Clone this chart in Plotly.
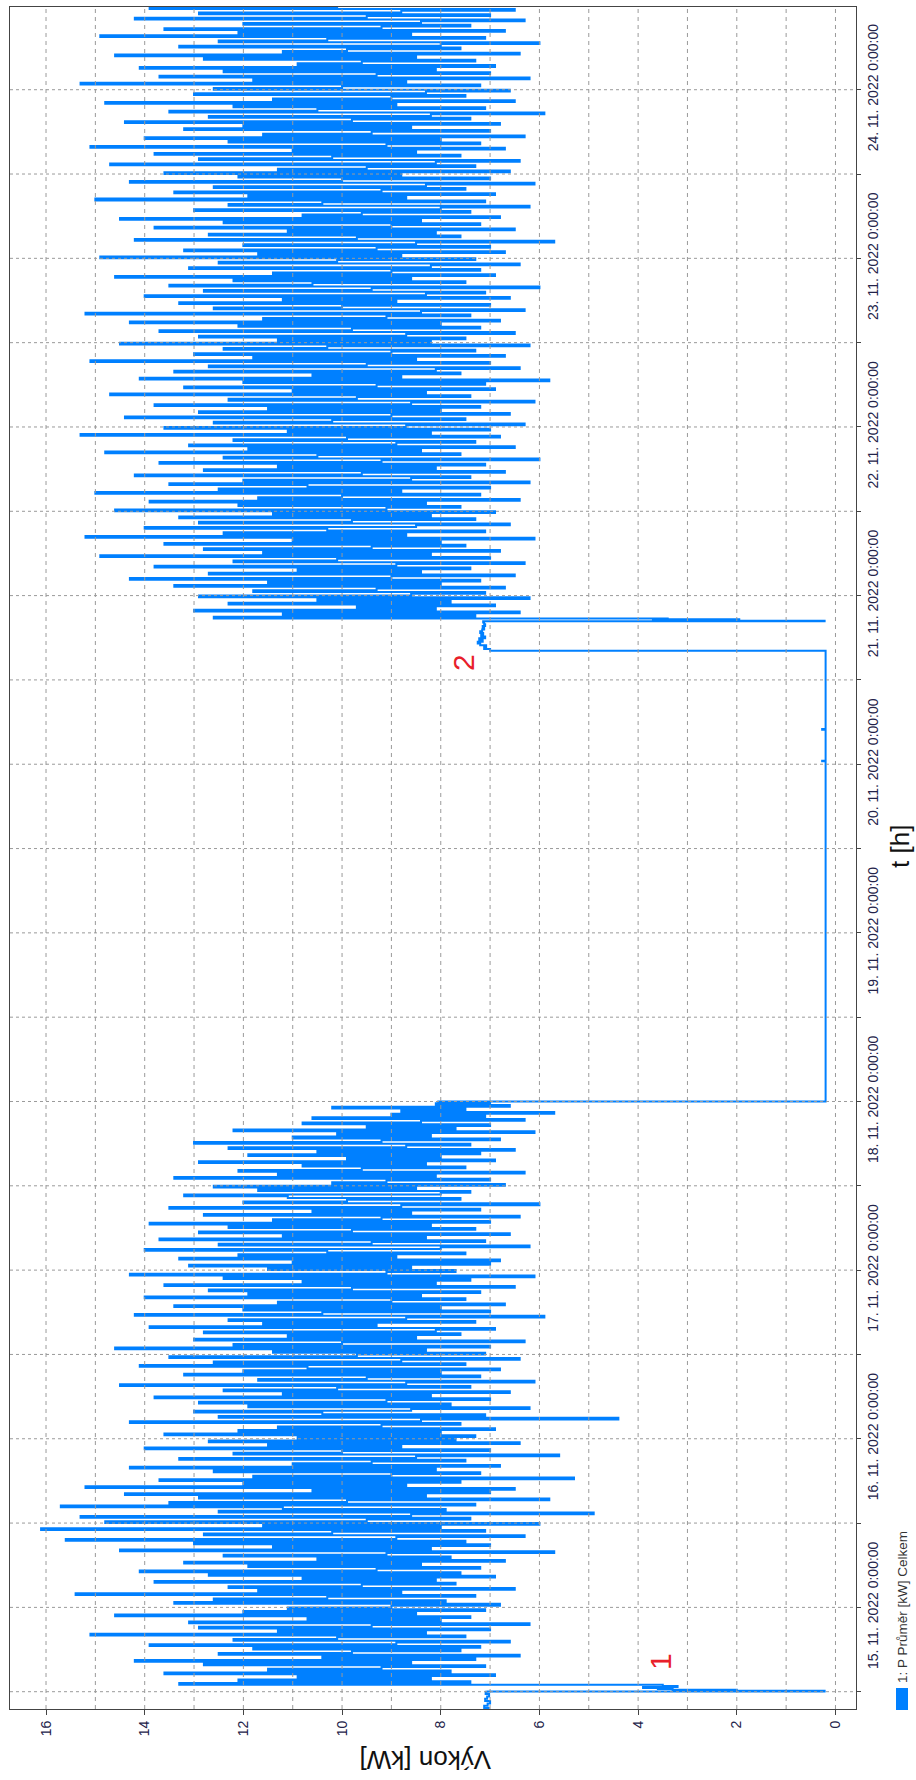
import pandas as pd
import plotly.graph_objects as go

# ---------------- data ----------------
# start: idle level, short drop (marker "1") before the first noisy period
pre_times = ["2022-11-14 09:00", "2022-11-14 09:20", "2022-11-14 09:40", "2022-11-14 10:00",
             "2022-11-14 10:20", "2022-11-14 10:40", "2022-11-14 11:00", "2022-11-14 11:20",
             "2022-11-14 11:40", "2022-11-14 12:00", "2022-11-14 12:01", "2022-11-14 12:08",
             "2022-11-14 12:16", "2022-11-14 12:24", "2022-11-14 12:32", "2022-11-14 12:40",
             "2022-11-14 12:48"]
pre_values = [7.08, 7.03, 7.12, 7.05, 7.0, 7.1, 7.06, 7.02, 7.09, 7.05, 0.22, 2.0,
              3.3, 3.6, 3.9, 3.2, 3.5]

# first operating period, 15-minute averages from 14.11.2022 13:00
period1_start = "2022-11-14 13:00"
period1_values = [
    13.3, 7.4, 12.1, 8.2, 10.9, 6.9, 13.6, 7.8, 11.5, 9.2, 7.1, 12.8, 8.6, 14.2, 7.3, 10.4, 6.4, 12.5, 9.8, 7.6,
    11.8, 7.2, 13.9, 8.9, 6.6, 12.2, 10.1, 7.5, 15.1, 8.3, 11.3, 7.0, 12.9, 9.4, 6.2, 13.1, 8.0, 10.7, 7.4, 14.6,
    8.5, 12.0, 7.1, 11.1, 9.0, 6.8, 13.4, 7.9, 12.6, 10.3, 7.3, 15.4, 8.8, 11.7, 6.5, 12.3, 9.6, 7.7, 13.8, 8.1,
    10.8, 6.9, 12.7, 7.6, 14.1, 9.3, 7.2, 11.9, 8.4, 13.2, 6.7, 10.5, 7.8, 12.4, 9.1, 5.7, 14.5, 8.2, 11.4, 7.0,
    13.0, 7.5, 15.6, 8.9, 6.3, 12.8, 10.2, 7.1, 16.1, 8.0, 11.6, 6.0, 14.8, 9.5, 7.4, 15.3, 8.6, 4.9, 12.5, 7.9,
    11.2, 15.7, 7.3, 13.5, 9.9, 5.8, 12.9, 8.3, 14.4, 7.0, 10.6, 6.5, 15.2, 8.7, 12.0, 7.6, 13.7, 5.3, 11.8, 9.0,
    7.2, 12.6, 8.1, 14.3, 6.8, 11.0, 9.4, 7.5, 13.3, 8.5, 5.6, 12.2, 10.0, 7.0, 14.0, 8.8, 11.5, 6.4, 12.7, 7.7,
    10.9, 7.3, 13.6, 8.0, 12.1, 6.9, 11.3, 9.2, 7.6, 14.3, 8.4, 4.4, 12.5, 7.1, 10.4, 13.0, 8.6, 6.2, 11.9, 7.8,
    12.9, 9.1, 7.0, 13.8, 8.2, 11.2, 6.6, 12.4, 10.1, 7.4, 14.5, 8.7, 6.1, 11.7, 9.5, 7.2, 13.2, 8.0, 12.0, 6.8,
    10.7, 14.1, 7.5, 12.6, 8.8, 6.4, 13.5, 9.7, 7.1, 11.4, 8.3, 14.6, 7.0, 12.2, 10.0, 6.3, 13.0, 8.5, 11.1, 7.6,
    12.8, 8.1, 6.9, 13.9, 9.3, 11.6, 7.3, 12.3, 8.7, 5.9, 14.2, 10.4, 7.0, 12.0, 8.0, 13.4, 6.7, 11.3, 9.0, 7.5,
    14.0, 8.4, 11.9, 7.2, 12.7, 9.8, 6.5, 13.6, 8.1, 10.8, 7.4, 12.4, 6.1, 14.3, 9.1, 7.7, 11.5, 8.6, 13.1, 7.0,
    11.0, 6.8, 13.3, 8.9, 12.1, 7.5, 10.3, 14.0, 8.0, 6.2, 12.5, 9.4, 7.1, 13.7, 8.3, 11.2, 6.6, 12.9, 9.8, 7.3,
    12.3, 8.2, 13.9, 7.0, 11.4, 9.2, 6.4, 12.8, 8.6, 10.6, 7.2, 13.5, 8.8, 6.0, 12.0, 9.9, 7.6, 11.1, 13.2, 8.0,
    7.4, 11.7, 8.5, 12.6, 6.7, 10.2, 9.1, 7.0, 13.4, 8.1, 11.3, 6.3, 12.1, 9.6, 7.5, 10.8, 8.3, 12.9, 6.9, 9.9,
    8.0, 11.9, 7.2, 10.5, 6.5, 12.3, 8.7, 7.4, 13.0, 9.2, 6.8, 11.0, 8.2, 10.1, 6.1, 12.2, 7.7, 9.5, 7.0, 10.8,
    8.4, 6.3, 10.6, 7.1, 9.0, 5.7, 8.8, 7.5, 10.2, 6.6, 8.1, 7.0, 8.05,
]

# shutdown, idle level and restart (marker "2")
mid_times = ["2022-11-18 00:01", "2022-11-19 12:00", "2022-11-20 00:20", "2022-11-20 00:25",
             "2022-11-20 00:30", "2022-11-20 04:50", "2022-11-20 04:55", "2022-11-20 05:00",
             "2022-11-20 16:09", "2022-11-20 16:10",
             "2022-11-20 16:25", "2022-11-20 16:40", "2022-11-20 16:55", "2022-11-20 17:10",
             "2022-11-20 17:25", "2022-11-20 17:40", "2022-11-20 17:55", "2022-11-20 18:10",
             "2022-11-20 18:25", "2022-11-20 18:40", "2022-11-20 18:55", "2022-11-20 19:10",
             "2022-11-20 19:25", "2022-11-20 19:40", "2022-11-20 19:55", "2022-11-20 20:10",
             "2022-11-20 20:20", "2022-11-20 20:25", "2022-11-20 20:30", "2022-11-20 20:38"]
mid_values = [0.2, 0.2, 0.2, 0.27, 0.2, 0.2, 0.27, 0.2, 0.2, 7.0,
              7.12, 7.08, 7.2, 7.25, 7.15, 7.22, 7.1, 7.18,
              7.14, 7.2, 7.16, 7.12, 7.15, 7.1, 7.12, 7.14,
              0.22, 3.7, 1.95, 3.4]

# second operating period, 15-minute averages from 20.11.2022 20:45
period2_start = "2022-11-20 20:45"
period2_values = [
    12.6, 7.3, 11.2, 6.4, 13.0, 8.1, 9.7, 6.9, 12.3, 7.8, 10.5, 6.2, 12.9, 8.6, 7.1, 11.8, 9.3, 6.7, 13.4, 8.0,
    11.5, 7.2, 14.3, 9.0, 6.5, 12.7, 8.4, 10.9, 7.4, 13.8, 8.9, 6.3, 12.2, 10.1, 7.0, 14.9, 8.2, 11.6, 6.8, 12.8,
    9.4, 7.5, 13.6, 8.0, 11.0, 6.1, 15.2, 8.7, 12.4, 7.1, 10.3, 14.0, 8.5, 6.6, 12.9, 9.8, 7.3, 13.3, 8.2, 11.4,
    6.9, 14.6, 9.1, 7.6, 12.1, 8.3, 13.9, 6.4, 11.7, 10.0, 7.2, 15.0, 8.8, 12.5, 7.0, 10.7, 13.5, 6.2, 12.0, 8.6,
    7.4, 14.2, 9.6, 6.7, 12.8, 8.1, 11.3, 7.1, 13.7, 9.2, 6.0, 12.4, 10.5, 7.6, 14.8, 8.4, 11.9, 6.5, 13.1, 8.9,
    7.3, 12.2, 9.9, 6.8, 15.3, 8.2, 11.1, 7.0, 13.6, 8.7, 6.3, 12.6, 10.2, 7.5, 14.4, 9.0, 6.6, 12.9, 8.0, 11.5,
    7.2, 13.8, 8.6, 6.1, 12.3, 9.7, 7.4, 14.7, 8.3, 11.0, 6.9, 13.2, 9.3, 7.1, 12.0, 5.8, 14.1, 8.8, 10.6, 7.6,
    13.4, 8.1, 6.4, 12.7, 9.5, 7.0, 15.1, 8.5, 11.8, 6.7, 13.0, 9.0, 7.3, 12.4, 10.3, 6.2, 14.5, 8.2, 11.3, 7.5,
    12.9, 8.7, 6.5, 13.7, 9.8, 7.2, 12.1, 8.0, 14.3, 6.8, 11.6, 9.1, 7.4, 15.2, 8.4, 6.3, 12.6, 10.0, 7.0, 13.3,
    8.9, 11.2, 6.6, 14.0, 8.3, 7.1, 12.8, 9.4, 6.0, 13.5, 10.6, 7.5, 12.2, 8.6, 14.6, 6.9, 11.4, 9.0, 7.2, 13.1,
    8.2, 6.4, 12.5, 10.1, 7.3, 14.9, 8.8, 11.7, 6.7, 13.2, 9.3, 7.0, 12.0, 8.5, 5.7, 14.2, 9.7, 7.6, 12.7, 8.1,
    11.1, 6.5, 13.8, 9.0, 7.2, 12.4, 8.4, 14.5, 6.8, 10.8, 9.6, 7.4, 13.0, 8.0, 6.2, 12.3, 10.4, 7.1, 15.0, 8.7,
    11.9, 6.9, 13.4, 9.2, 7.5, 12.6, 8.3, 6.1, 14.3, 10.0, 7.0, 12.1, 8.8, 13.6, 6.6, 11.3, 9.5, 7.3, 14.7, 8.1,
    6.4, 12.9, 10.2, 7.6, 13.8, 8.5, 11.0, 6.7, 15.1, 9.1, 7.2, 12.3, 8.0, 14.0, 6.3, 11.6, 9.4, 7.0, 13.2, 8.6,
    12.0, 6.8, 14.4, 9.8, 7.4, 12.7, 8.2, 5.9, 13.5, 10.5, 7.1, 12.2, 8.9, 14.8, 6.5, 11.4, 9.0, 7.5, 13.0, 8.3,
    6.6, 12.6, 10.0, 7.2, 15.3, 8.7, 11.8, 6.2, 13.7, 9.3, 7.0, 12.4, 8.1, 14.1, 6.9, 10.9, 9.6, 7.3, 12.8, 8.5,
    14.6, 6.4, 11.2, 9.9, 7.6, 13.3, 8.0, 6.0, 12.5, 10.3, 7.1, 14.9, 8.6, 12.1, 6.7, 13.6, 9.2, 7.4, 12.0, 8.4,
    6.3, 14.2, 9.5, 7.0, 12.9, 8.8, 6.5, 13.9, 10.1, 7.3, 15.1, 8.2,
]

# axes
day_ticks = ["2022-11-%02d 00:00" % d for d in range(15, 25)]
day_labels = ["%d. 11. 2022 0:00:00" % d for d in range(15, 25)]
half_day_ticks = ["2022-11-%02d 12:00" % d for d in range(14, 24)]
kw_ticks = [0, 2, 4, 6, 8, 10, 12, 14, 16]
series_name = "1: P Průměr [kW] Celkem"

# ---------------- build ----------------
t1 = pd.date_range(period1_start, periods=len(period1_values), freq="15min")
t2 = pd.date_range(period2_start, periods=len(period2_values), freq="15min")
times = (list(pd.to_datetime(pre_times)) + list(t1) + list(pd.to_datetime(mid_times)) + list(t2))
values = pre_values + period1_values + mid_values + period2_values

BLUE = "#0080ff"
TXT = "#23234a"
GRID = "#9a9a9a"
FONT = "Liberation Sans, Arial, sans-serif"

fig = go.Figure()
fig.add_trace(go.Scatter(x=values, y=times, mode="lines", line=dict(color=BLUE, width=2.0, shape="vh"),
                         name=series_name, showlegend=False, hoverinfo="skip"))

W, H = 916, 1780
ML, MR, MT, MB = 10, 60, 7, 71
PW, PH = W - ML - MR, H - MT - MB

def px(xp):
    return (xp - ML) / PW

def py(yp):
    return (H - MB - yp) / PH

y_range = ["2022-11-14 09:32:15", "2022-11-24 11:46:20"]

# gridlines drawn above the data like in the original
shapes = []
for v in list(range(0, 17)):
    shapes.append(dict(type="line", xref="x", yref="paper", x0=v, x1=v, y0=0, y1=1,
                       line=dict(color=GRID, width=1, dash="4px,4px"), layer="above"))
for tv in sorted(day_ticks + half_day_ticks):
    shapes.append(dict(type="line", xref="paper", yref="y", x0=0, x1=1, y0=tv, y1=tv,
                       line=dict(color=GRID, width=1, dash="3px,3px"), layer="above"))
# legend swatch
shapes.append(dict(type="rect", xref="paper", yref="paper", x0=px(896), x1=px(908), y0=py(1710), y1=py(1688),
                   fillcolor=BLUE, line=dict(width=0)))

annotations = [
    dict(text="Výkon [kW]", xref="paper", yref="paper", x=px(426), y=py(1760), showarrow=False,
         textangle=180, font=dict(family=FONT, size=26, color="#111111"), xanchor="center", yanchor="middle"),
    dict(text="t [h]", xref="paper", yref="paper", x=px(900), y=py(847), showarrow=False,
         textangle=-90, font=dict(family=FONT, size=26, color="#111111"), xanchor="center", yanchor="middle"),
    dict(text=series_name, xref="paper", yref="paper", x=px(902), y=py(1607), showarrow=False,
         textangle=-90, font=dict(family=FONT, size=13.5, color="#333333"), xanchor="center", yanchor="middle"),
    dict(text="1", xref="paper", yref="paper", x=px(660), y=py(1662), showarrow=False,
         textangle=-90, font=dict(family=FONT, size=30, color="#e8202a"), xanchor="center", yanchor="middle"),
    dict(text="2", xref="paper", yref="paper", x=px(463), y=py(663), showarrow=False,
         textangle=-90, font=dict(family=FONT, size=30, color="#e8202a"), xanchor="center", yanchor="middle"),
]

fig.update_layout(
    width=W, height=H, margin=dict(l=ML, r=MR, t=MT, b=MB, pad=0),
    paper_bgcolor="white", plot_bgcolor="white",
    font=dict(family=FONT, size=14, color=TXT),
    shapes=shapes, annotations=annotations, showlegend=False,
    xaxis=dict(range=[16.73, -0.416], tickmode="array", tickvals=kw_ticks, ticktext=[str(v) for v in kw_ticks],
               tickangle=-90, ticks="outside", ticklen=5, tickcolor="#444444", showgrid=False, zeroline=False,
               showline=True, mirror=True, linecolor="#444444", linewidth=1,
               tickfont=dict(family=FONT, size=14, color=TXT)),
    yaxis=dict(type="date", range=y_range, side="right", tickmode="array", tickvals=day_ticks,
               ticktext=day_labels, tickangle=-90, ticks="outside", ticklen=4, tickcolor="#444444",
               minor=dict(tickmode="array", tickvals=half_day_ticks, ticks="outside", ticklen=4,
                          tickcolor="#444444", showgrid=False),
               showgrid=False, zeroline=False, showline=True, mirror=True, linecolor="#444444", linewidth=1,
               tickfont=dict(family=FONT, size=14, color=TXT)),
)

fig.write_html("out.html", config={"displayModeBar": False},
               post_script="document.body.style.margin='0';document.body.style.overflow='hidden';")
